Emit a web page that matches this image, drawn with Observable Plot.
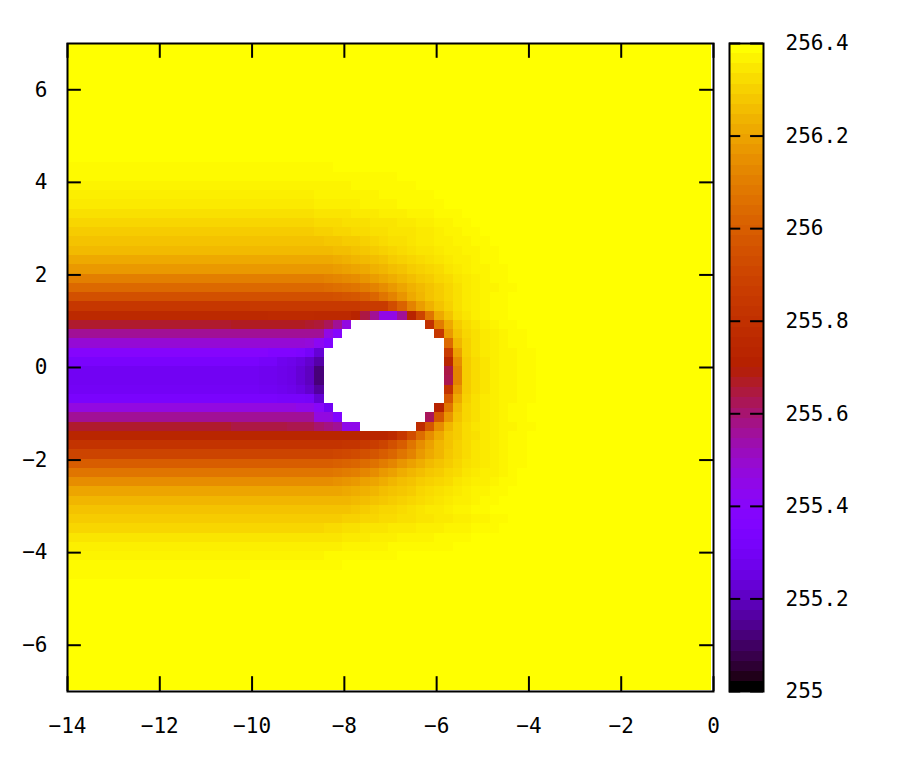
<!DOCTYPE html>
<html>
<head>
<meta charset="utf-8">
<script src="https://cdn.jsdelivr.net/npm/d3@7"></script>
<script src="https://cdn.jsdelivr.net/npm/@observablehq/plot@0.6"></script>
<style>
html,body{margin:0;padding:0;background:#fff}
#chart{display:flex;width:924px;height:776px}
#chart svg{display:block;flex:none}
</style>
</head>
<body>
<div id="chart"></div>
<script>
// Field values: hundredths above 255, per row from the top, "value*count" runs.
// "_" = no data (the hole); a row's remaining cells are 140 (256.40).
const base = 255;
const rowRuns = [
"","","","","","","","","","","","","",
"139*29",
"139*36",
"138*31 139*7",
"137*27 138*7 139*6",
"136*27 137*5 138*4 139*5",
"134*27 135*4 136*3 137*3 138*3 139*3",
"132*27 133*3 134*3 135*3 136*2 137*2 138*2 139*2",
"130*27 131*2 132*2 133*2 134*2 135*3 136*2 137 138*2 139*2",
"128*28 129*2 130*2 131 132 133 134*2 135 136*2 137*2 138*2 139*2",
"126*29 127*2 128 129 130 131 132 133 134 135*2 136 137*2 138*2 139*2",
"122*29 123 124 125 126 127 128 130 131 132 133 134 135 136 137*2 138 139*2",
"118*29 119 120 121 122 124 125 127 128 130 131 132 133 135 136 137 138*2 139*2",
"111*28 112 113 114 115 117 119 121 123 125 127 129 130 132 133 135 136 137 138 139*2",
"104*28 105 106 107 108 110 112 115 118 121 124 126 128 130 132 134 136 137 138*2 139*2",
"95*29 96 97 98 100 103 108 112 117 122 125 128 130 132 134 136 137 138 139*2",
"84*20 85*12 86*3 94 102 112 119 124 128 131 134 136 137 138 139*2",
"76*22 77*5 76*4 73 64 56 45*2 56 73 90 108 122 128 133 135 137 138 139*2",
"66*18 67*8 66 65 62 56 46 _*8 80 110 122 130 133 135 137 138 139*2",
"56*28 45 38 _*10 84 118 128 132 134 136 137 138 139*2",
"48*26 47 42 36 _*12 104 125 131 134 136 137 138 139*2",
"38*22 36*3 34 30 22 _*13 86 120 131 134 136 137 138*2 139*2",
"32*21 30*2 27 26 24 21 16 _*13 74 115 130 133 135 137 138*2 139*2",
"28*21 27*2 26 25 22 19 11 _*13 64 112 130 133 135 137 138*2 139*2",
"28*21 27*2 26 25 22 19 11 _*13 63 112 130 133 135 137 138*2 139*2",
"29*21 28*2 27 26 24 21 15 _*13 82 117 130 133 135 137 138*2 139*2",
"32*23 31*3 30 22 _*13 98 122 131 134 136 137 138*2 139*2",
"46*25 44*2 40 28 _*11 72 108 126 132 134 136 137 138 139*2",
"56*27 46*2 36 _*9 62 98 117 128 132 134 136 137 138 139*2",
"66*18 64*6 63*3 60 58 56 44*2 _*6 78 98 115 125 130 133 135 136 137 138*2 139*2",
"74*35 77 84 94 105 115 122 128 130 133 134 136 137 138 139*2",
"82*30 83*2 85 87 90 95 100 108 115 120 125 128 131 133 135 136 137 138 139*2",
"90*29 91 92 93 95 97 100 103 108 112 118 122 125 129 131 133 135 136 137 138 139*2",
"100*29 101 102 103 105 107 110 113 117 120 123 126 128 130 132 134 135 136 137 138 139*2",
"108*29 109 110 111 113 115 118 120 123 125 127 129 130 132 133 135 136 137*2 138 139",
"115*29 116 117 118 120 121 123 125 127 128 130 131 132 133 135 136 137*2 138 139*2",
"121*30 122 123 124 125 127 128 129 130 132 133 134 135 136 137 138*2 139*2",
"125*31 126 127 128 129 130 131 132 133 134 135 136 137*2 138 139*2",
"128*31 129 130 131 132*2 133 134 135 136*2 137 138*2 139*2",
"130*30 131*2 132*2 133*2 134*2 135*2 136*2 137*2 138*2 139*2",
"132*28 133*2 134*2 135*3 136*3 137*3 138*3 139*3",
"135*30 136*3 137*3 138*4 139*4",
"137*30 138*5 139*7",
"138*28 139*8",
"139*30",
"139*20",
"","","","","","","","","","","",""
];
const xDomain = [-14, 0];
const yDomain = [-7, 7];
const xTicks = [-14, -12, -10, -8, -6, -4, -2, 0];
const yTicks = [-6, -4, -2, 0, 2, 4, 6];
const cbDomain = [255, 256.4];
const cbTicks = [255, 255.2, 255.4, 255.6, 255.8, 256, 256.2, 256.4];
const cbBands = 64;
const step = 0.2, nCols = 70;
const xStart = -14.04, yStart = 7.02;

const font = "'DejaVu Sans Mono','Liberation Mono',monospace";
const palette = t => {
  const r = Math.sqrt(t), g = t * t * t, b = Math.max(0, Math.sin(2 * Math.PI * t));
  return `rgb(${Math.round(r*255)},${Math.round(g*255)},${Math.round(b*255)})`;
};
const color = {type: "linear", domain: cbDomain, interpolate: palette, clamp: true};

const cells = [];
rowRuns.forEach((row, j) => {
  let i = 0;
  for (const tok of row.split(" ").filter(Boolean)) {
    const [v, c] = tok.split("*");
    for (let n = 0; n < (c ? +c : 1); n++, i++) {
      if (v !== "_") cells.push({i, j, value: base + v / 100});
    }
  }
  for (; i < nCols; i++) cells.push({i, j, value: base + 1.4});
});

const txt = {fontFamily: font, fontSize: "21px", background: "transparent"};

const main = Plot.plot({
  width: 722, height: 776,
  marginLeft: 67, marginRight: 9, marginTop: 43, marginBottom: 85,
  style: txt,
  x: {domain: xDomain},
  y: {domain: yDomain},
  color,
  marks: [
    Plot.rect(cells, {
      x1: d => xStart + d.i * step, x2: d => xStart + (d.i + 1) * step,
      y1: d => yStart - d.j * step, y2: d => yStart - (d.j + 1) * step,
      fill: "value", clip: true, shapeRendering: "crispEdges"
    }),
    Plot.ruleX(xTicks, {y1: -7, y2: -6.68, stroke: "black", strokeWidth: 2}),
    Plot.ruleX(xTicks, {y1: 7, y2: 6.68, stroke: "black", strokeWidth: 2}),
    Plot.ruleY(yTicks, {x1: -14, x2: -13.7, stroke: "black", strokeWidth: 2}),
    Plot.ruleY(yTicks, {x1: 0, x2: -0.3, stroke: "black", strokeWidth: 2}),
    Plot.frame({stroke: "black", strokeWidth: 2}),
    Plot.axisX({ticks: xTicks, tickSize: 0, tickPadding: 27, label: null, fill: "black", fontSize: 21}),
    Plot.axisY({ticks: yTicks, tickSize: 0, tickPadding: 20, label: null, fill: "black", fontSize: 21})
  ]
});

const bands = d3.range(cbBands).map(i => ({
  lo: cbDomain[0] + (cbDomain[1] - cbDomain[0]) * i / cbBands,
  hi: cbDomain[0] + (cbDomain[1] - cbDomain[0]) * (i + 1) / cbBands,
  value: cbDomain[0] + (cbDomain[1] - cbDomain[0]) * i / (cbBands - 1)
}));

const bar = Plot.plot({
  width: 202, height: 776,
  marginLeft: 7, marginRight: 161, marginTop: 43, marginBottom: 85,
  style: txt,
  x: {domain: [0, 1], axis: null},
  y: {domain: cbDomain},
  color,
  marks: [
    Plot.rect(bands, {x1: 0, x2: 1, y1: "lo", y2: "hi", fill: "value", shapeRendering: "crispEdges"}),
    Plot.ruleY(cbTicks, {x1: 0, x2: 0.33, stroke: "black", strokeWidth: 2}),
    Plot.ruleY(cbTicks, {x1: 1, x2: 0.62, stroke: "black", strokeWidth: 2}),
    Plot.frame({stroke: "black", strokeWidth: 2}),
    Plot.axisY({anchor: "right", ticks: cbTicks, tickSize: 0, tickPadding: 22, tickFormat: d => String(d), label: null, fill: "black", fontSize: 21})
  ]
});

document.getElementById("chart").append(main, bar);
</script>
</body>
</html>
